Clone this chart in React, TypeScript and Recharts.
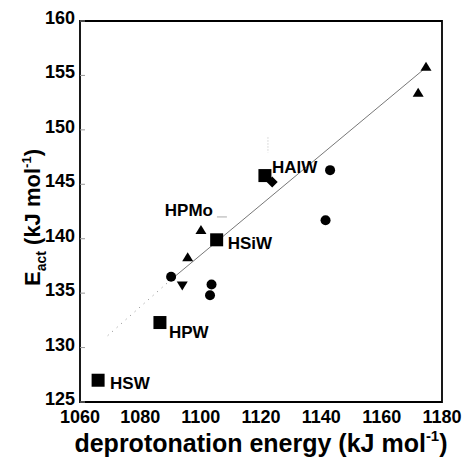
import { ScatterChart, Scatter, XAxis, YAxis, ReferenceArea, ReferenceLine } from "recharts"

// values (x = deprotonation energy, y = Eact)
const squares = [
  { x: 1066.0, y: 127.0, name: "HSW" },
  { x: 1086.5, y: 132.3, name: "HPW" },
  { x: 1105.3, y: 139.9, name: "HSiW" },
  { x: 1121.3, y: 145.8, name: "HAlW" },
]
const circles = [
  { x: 1090.2, y: 136.5 },
  { x: 1103.6, y: 135.8 },
  { x: 1103.1, y: 134.8 },
  { x: 1142.9, y: 146.3 },
  { x: 1141.4, y: 141.7 },
]
const trianglesUp = [
  { x: 1095.7, y: 138.3 },
  { x: 1100.1, y: 140.8, name: "HPMo" },
  { x: 1172.1, y: 153.4 },
  { x: 1174.7, y: 155.8 },
]
const trianglesDown = [{ x: 1093.9, y: 135.7 }]
const diamonds = [{ x: 1123.7, y: 145.2 }]
const fitDotted = [
  { x: 1069.2, y: 131.1 },
  { x: 1090.0, y: 136.2 },
]
const fitSolid = [
  { x: 1090.0, y: 136.2 },
  { x: 1175.0, y: 155.8 },
]
// faint leftover marks in the original figure
const strayDash = [
  { x: 1105.4, y: 142.0 },
  { x: 1108.7, y: 142.0 },
]
const strayDotted = [
  { x: 1122.3, y: 149.3 },
  { x: 1122.3, y: 147.9 },
]
const xTicks = [1060, 1080, 1100, 1120, 1140, 1160, 1180]
const yTicks = [125, 130, 135, 140, 145, 150, 155, 160]

const FONT = "Arial, 'Liberation Sans', sans-serif"

// label offsets relative to the marker centre
const labelPos: Record<string, { dx: number; dy: number; anchor: "start" | "end" }> = {
  HSW: { dx: 12, dy: 9, anchor: "start" },
  HPW: { dx: 9, dy: 15, anchor: "start" },
  HSiW: { dx: 11, dy: 9, anchor: "start" },
  HAlW: { dx: 7, dy: -3, anchor: "start" },
  HPMo: { dx: 12, dy: -14, anchor: "end" },
}

function PointLabel({ cx, cy, name }: any) {
  if (!name || !labelPos[name]) return null
  const p = labelPos[name]
  return (
    <text x={cx + p.dx} y={cy + p.dy} textAnchor={p.anchor} fontFamily={FONT} fontWeight="bold" fontSize={17} fill="#000">
      {name}
    </text>
  )
}

const Square = (props: any) => {
  const { cx, cy, payload } = props
  return (
    <g>
      <rect x={cx - 6.5} y={cy - 6.5} width={13} height={13} fill="#000" />
      <PointLabel cx={cx} cy={cy} name={payload?.name} />
    </g>
  )
}

const Dot = (props: any) => <circle cx={props.cx} cy={props.cy} r={5} fill="#000" />

const TriUp = (props: any) => {
  const { cx, cy, payload } = props
  return (
    <g>
      <path d={`M${cx},${cy - 5} L${cx + 5.5},${cy + 4} L${cx - 5.5},${cy + 4} Z`} fill="#000" />
      <PointLabel cx={cx} cy={cy} name={payload?.name} />
    </g>
  )
}

const TriDown = (props: any) => {
  const { cx, cy } = props
  return <path d={`M${cx - 5.5},${cy - 4} L${cx + 5.5},${cy - 4} L${cx},${cy + 5} Z`} fill="#000" />
}

const Diamond = (props: any) => {
  const { cx, cy } = props
  return <path d={`M${cx},${cy - 5.5} L${cx + 5.5},${cy} L${cx},${cy + 5.5} L${cx - 5.5},${cy} Z`} fill="#000" />
}

// tick labels sit slightly above their tick, tick marks point inward
const YTick = (props: any) => {
  const { x, y, payload } = props
  return (
    <g>
      <line x1={x + 5} x2={x + 10} y1={y} y2={y} stroke="#999" strokeWidth={1} />
      <text x={x} y={y} dy={3} textAnchor="end" fontFamily={FONT} fontWeight="bold" fontSize={18} fill="#000">
        {payload.value}
      </text>
    </g>
  )
}

const XTitle = ({ viewBox }: any) => (
  <text x={viewBox.x + viewBox.width / 2} y={viewBox.y + 50} textAnchor="middle" fontFamily={FONT} fontWeight="bold" fontSize={25} fill="#000">
    deprotonation energy (kJ mol
    <tspan fontSize={15} dy={-11}>-1</tspan>
    <tspan dy={11}>)</tspan>
  </text>
)

const YTitle = ({ viewBox }: any) => {
  const x = viewBox.x + 10
  const y = viewBox.y + viewBox.height / 2 + 6
  return (
    <text x={x} y={y} transform={`rotate(-90, ${x}, ${y})`} textAnchor="middle" fontFamily={FONT} fontWeight="bold" fontSize={22} fill="#000">
      E<tspan fontSize={14} dy={6}>act</tspan>
      <tspan dy={-6}> (kJ mol</tspan>
      <tspan fontSize={13} dy={-9}>-1</tspan>
      <tspan dy={9}>)</tspan>
    </text>
  )
}

export default function App() {
  return (
    <div style={{ position: "absolute", left: 0, top: 0, background: "#fff" }}>
      <ScatterChart width={463} height={460} margin={{ top: 21, right: 21, left: 30, bottom: 28 }}>
        <XAxis
          type="number"
          dataKey="x"
          domain={[1060, 1180]}
          ticks={xTicks}
          allowDataOverflow
          height={30}
          axisLine={false}
          tickLine={false}
          tickSize={0}
          tickMargin={8}
          tick={{ fontFamily: FONT, fontWeight: "bold", fontSize: 18, fill: "#000" }}
          label={{ content: XTitle }}
        />
        <YAxis
          type="number"
          dataKey="y"
          domain={[125, 160]}
          ticks={yTicks}
          allowDataOverflow
          width={50}
          axisLine={false}
          tickLine={false}
          tickSize={0}
          tickMargin={5}
          tick={<YTick />}
          label={{ content: YTitle }}
        />
        <YAxis
          yAxisId="right"
          orientation="right"
          type="number"
          domain={[125, 160]}
          ticks={yTicks}
          width={0}
          mirror
          axisLine={false}
          tick={false}
          tickSize={5}
          tickLine={{ stroke: "#999" }}
        />
        <ReferenceArea x1={1060} x2={1180} y1={125} y2={160} fill="none" stroke="#000" strokeWidth={1.8} ifOverflow="visible" />
        <ReferenceLine segment={strayDash} stroke="#aaa" strokeWidth={1} />
        <ReferenceLine segment={strayDotted} stroke="#bbb" strokeWidth={1} strokeDasharray="1 2" />
        <Scatter data={fitDotted} line={{ stroke: "#888", strokeWidth: 1, strokeDasharray: "1 5" }} shape={() => <g />} isAnimationActive={false} />
        <Scatter data={fitSolid} line={{ stroke: "#777", strokeWidth: 1 }} shape={() => <g />} isAnimationActive={false} />
        <Scatter data={circles} shape={Dot} isAnimationActive={false} />
        <Scatter data={trianglesUp} shape={TriUp} isAnimationActive={false} />
        <Scatter data={trianglesDown} shape={TriDown} isAnimationActive={false} />
        <Scatter data={diamonds} shape={Diamond} isAnimationActive={false} />
        <Scatter data={squares} shape={Square} isAnimationActive={false} />
      </ScatterChart>
    </div>
  )
}
